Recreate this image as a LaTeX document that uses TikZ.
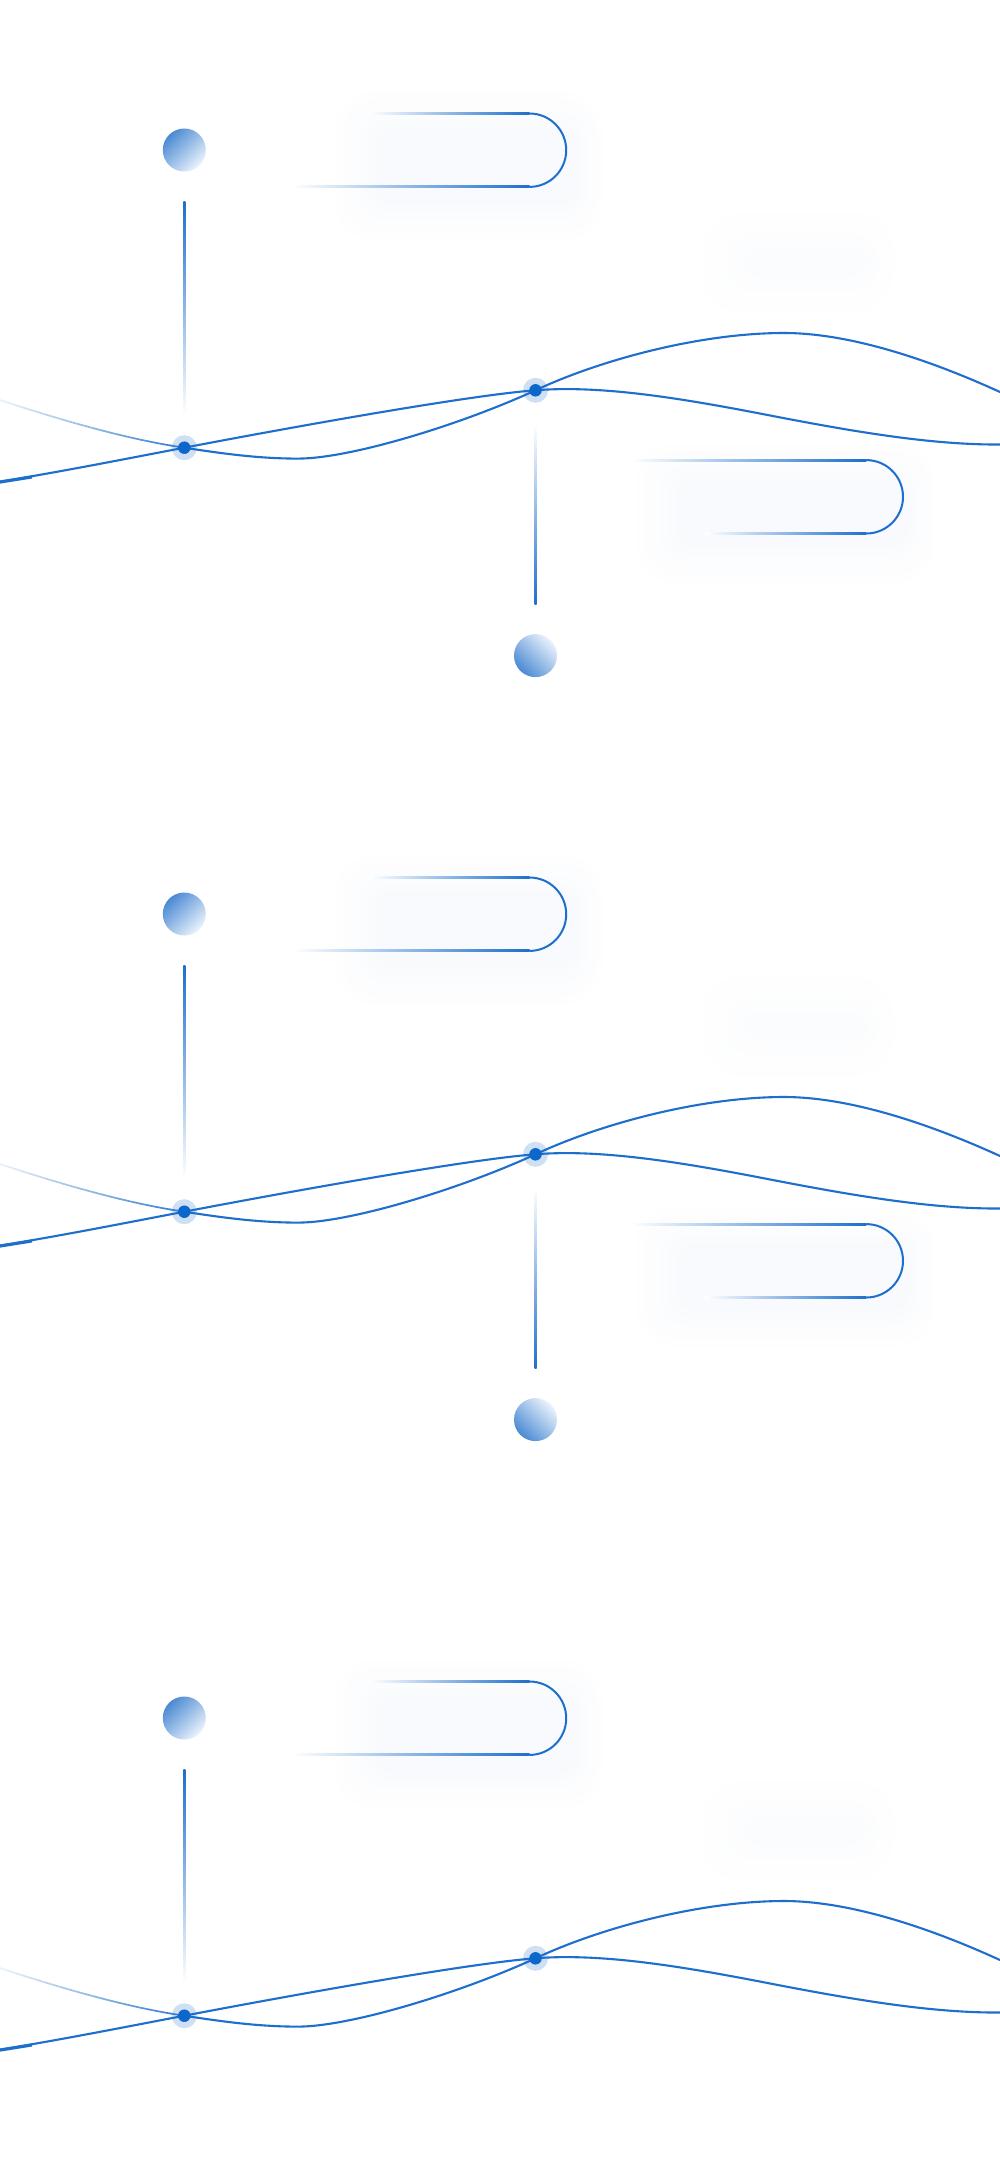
\documentclass[tikz,border=0pt]{standalone}
\usetikzlibrary{calc}
\definecolor{mainblue}{HTML}{1E6FCD}
\definecolor{dotblue}{HTML}{0B67C9}
\definecolor{haloblue}{HTML}{CFE0F5}
\definecolor{balldark}{HTML}{4B8AD3}
\definecolor{balllight}{HTML}{EAF2FC}
\definecolor{shadowc}{HTML}{F4F7FC}
\tikzset{
  wave/.style={draw=mainblue, line width=2.1pt, line cap=round},
  halo/.style={circle, fill=haloblue, minimum size=25pt, inner sep=0pt},
  dotnode/.style={circle, fill=dotblue, minimum size=12.5pt, inner sep=0pt},
  ballA/.style={circle, minimum size=43pt, inner sep=0pt, top color=balldark, bottom color=balllight, shading angle=45},
  ballB/.style={circle, minimum size=43pt, inner sep=0pt, top color=balllight, bottom color=balldark, shading angle=-45},
  pillarc/.style={draw=mainblue, line width=2pt},
}
% pill: #1 top line start x, #2 bottom line start x, #3 arc centre x, #4 centre y
\newcommand{\pillpath}[4]{%
  \shade[left color=white, middle color=mainblue!45!white, right color=mainblue] (#1,{#4-37.7}) rectangle (#3,{#4-35.7});
  \shade[left color=white, middle color=mainblue!45!white, right color=mainblue] (#2,{#4+35.7}) rectangle (#3,{#4+37.7});
  \draw[pillarc] (#3,{#4-36.7}) arc[start angle=90,end angle=-90,radius=36.7pt];
}
% faint fading left part of the hump curve, from (0,400) to node 1
\newcommand{\fadecurve}{%
  \foreach \i in {0,...,23}{%
    \pgfmathsetmacro{\ta}{\i/24}%
    \pgfmathsetmacro{\tb}{(\i+1)/24}%
    \pgfmathsetmacro{\xa}{3*(1-\ta)^2*\ta*60+3*(1-\ta)*\ta^2*130+\ta^3*184.3}%
    \pgfmathsetmacro{\ya}{(1-\ta)^3*400+3*(1-\ta)^2*\ta*420+3*(1-\ta)*\ta^2*440+\ta^3*447.7}%
    \pgfmathsetmacro{\xb}{3*(1-\tb)^2*\tb*60+3*(1-\tb)*\tb^2*130+\tb^3*184.3}%
    \pgfmathsetmacro{\yb}{(1-\tb)^3*400+3*(1-\tb)^2*\tb*420+3*(1-\tb)*\tb^2*440+\tb^3*447.7}%
    \pgfmathtruncatemacro{\pct}{10+85*\ta}%
    \draw[line width=1.7pt, line cap=round, draw=mainblue!\pct!white] (\xa,\ya) -- (\xb,\yb);
  }%
}
% soft glow made of nested rounded rectangles: #1 x0, #2 y0, #3 x1, #4 y1, #5 max strength (percent)
\newcommand{\softglow}[5]{%
  \foreach \k in {0,...,5}{%
    \pgfmathtruncatemacro{\gp}{#5*(\k+1)/6}%
    \fill[shadowc!\gp!white, rounded corners={40pt-4pt*\k}] ({#1+8*\k},{#2+7*\k}) rectangle ({#3-5*\k},{#4-7*\k});
  }%
}
% one block: #1 vertical offset, #2 id, #3 = 1 when the lower part is drawn
\newcommand{\drawblock}[3]{%
\begin{scope}[yshift=-#1pt]
  % soft glows
  \softglow{335}{92}{602}{240}{60}
  \softglow{702}{213}{893}{312}{32}
  \ifnum#3=1
    \softglow{636}{444}{934}{582}{60}
  \fi
  % upper pill and circle
  \pillpath{370}{293}{529.5}{150.2}
  \node[ballA] (c1#2) at (184.3,150) {};
  % intersection halos
  \node[halo] (n1#2) at (184.3,447.7) {};
  \node[halo] (n2#2) at (535.5,390.3) {};
  % vertical connector from circle 1 to node 1
  \shade[top color=mainblue, middle color=mainblue!55!white, bottom color=white]
    ([xshift=-1pt,yshift=-30pt]c1#2.south) rectangle ([xshift=1pt,yshift=20pt]n1#2.north);
  \ifnum#3=1
    \pillpath{631}{705}{866.3}{496.8}
    \node[ballB] (c2#2) at (535.5,655.6) {};
    \shade[top color=white, middle color=mainblue!55!white, bottom color=mainblue]
      ([xshift=-1pt,yshift=-21pt]n2#2.south) rectangle ([xshift=1pt,yshift=29pt]c2#2.north);
  \fi
  % curves
  \coordinate (aL#2) at (0,400);
  \coordinate (amin#2) at (298,458.6);
  \coordinate (apk#2) at (784,333);
  \coordinate (aR#2) at (1000,392);
  \coordinate (bL#2) at (0,481.5);
  \coordinate (bm#2) at (765,414.5);
  \coordinate (bR#2) at (1000,444.5);
  \fadecurve
  \draw[wave] (n1#2.center) .. controls (225,454) and (260,458.6) .. (amin#2)
     .. controls (350,458.6) and (460,425) .. (n2#2.center)
     .. controls (600,360) and (700,333) .. (apk#2)
     .. controls (850,333) and (930,360) .. (aR#2);
  \draw[wave] (bL#2) .. controls (60,472) and (130,458) .. (n1#2.center)
     .. controls (284,428.6) and (470,395) .. (n2#2.center)
     .. controls (600,385) and (680,398) .. (bm#2)
     .. controls (850,431) and (930,445) .. (bR#2);
  \coordinate (tick#2) at (32,477);
  \draw[mainblue, line width=3pt] ([yshift=-0.6pt]bL#2) -- (tick#2);
  % dots
  \node[dotnode] (d1#2) at (n1#2) {};
  \node[dotnode] (d2#2) at (n2#2) {};
\end{scope}}
\begin{document}
\begin{tikzpicture}[x=1pt,y=-1pt]
  \useasboundingbox (0,0) rectangle (1000,2167);
  \fill[white] (0,0) rectangle (1000,2167);
  \drawblock{0}{a}{1}
  \drawblock{764}{b}{1}
  \drawblock{1568}{c}{0}
\end{tikzpicture}
\end{document}
